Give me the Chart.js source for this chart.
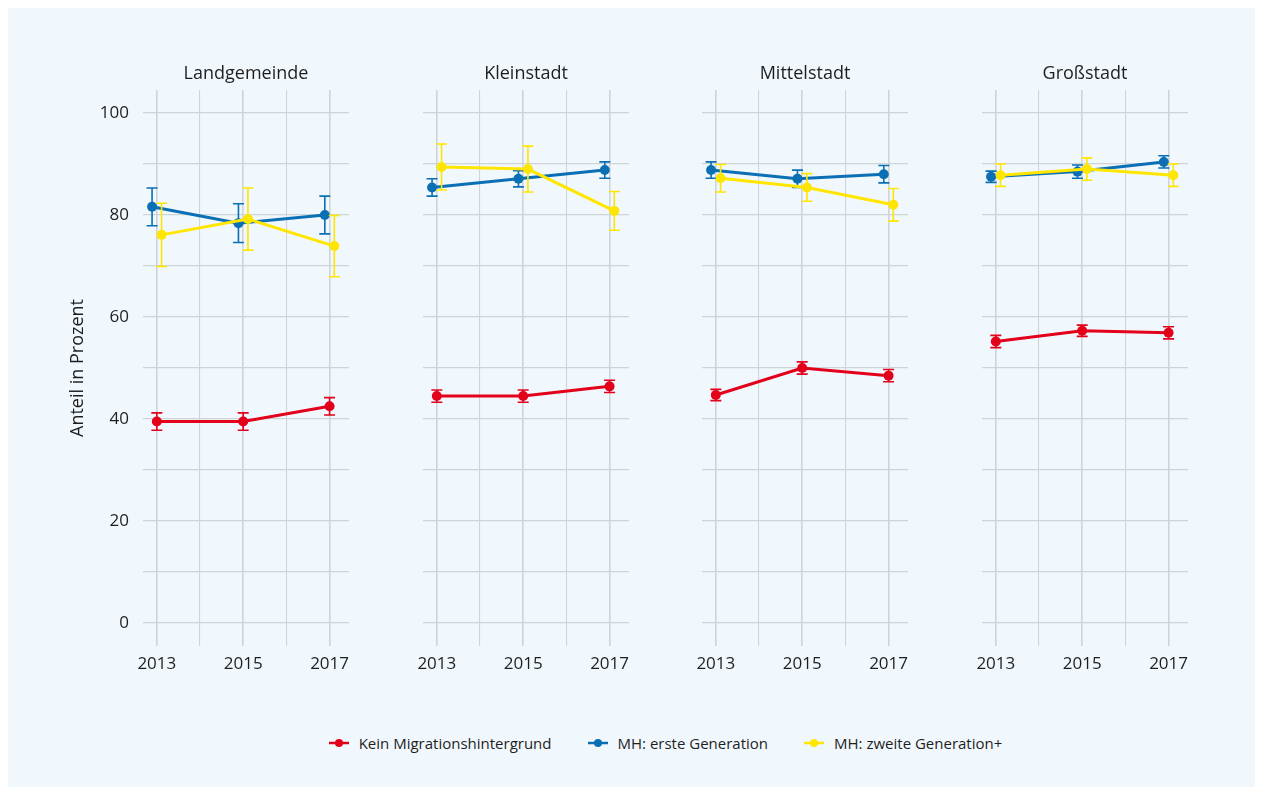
<!DOCTYPE html>
<html>
<head>
<meta charset="utf-8">
<script src="https://cdn.jsdelivr.net/npm/chart.js@4"></script>
<style>
  html, body { margin: 0; padding: 0; background: #fff; }
  #frame { position: relative; width: 1261px; height: 793px; }
  #panel { position: absolute; left: 8px; top: 8px; width: 1247px; height: 779px; background: #f1f8fd; }
  .cv { position: absolute; }
  #legend { position: absolute; left: 143px; width: 1045px; top: 733px; display: flex; justify-content: center;
            font: 15px "Open Sans", sans-serif; color: #1e1e1e; }
  #legend .item { display: flex; align-items: center; margin: 0 18px; }
  #legend svg { margin-right: 10px; }
</style>
</head>
<body>
<div id="frame">
  <div id="panel"></div>
  <canvas id="c0" class="cv"></canvas>
  <canvas id="c1" class="cv"></canvas>
  <canvas id="c2" class="cv"></canvas>
  <canvas id="c3" class="cv"></canvas>
  <div id="legend"></div>
</div>
<script>
// data
const panels = ['Landgemeinde', 'Kleinstadt', 'Mittelstadt', 'Großstadt'];
const years = [2013, 2015, 2017];
const seriesNames = ['Kein Migrationshintergrund', 'MH: erste Generation', 'MH: zweite Generation+'];

const kein      = [[39.5, 39.5, 42.5], [44.5, 44.5, 46.4], [44.7, 50.0, 48.5], [55.2, 57.3, 56.9]];
const keinErr   = [[1.7, 1.7, 1.7], [1.2, 1.2, 1.2], [1.1, 1.2, 1.2], [1.2, 1.1, 1.2]];
const erste     = [[81.6, 78.4, 80.0], [85.4, 87.1, 88.8], [88.8, 87.1, 88.0], [87.5, 88.5, 90.4]];
const ersteErr  = [[3.7, 3.8, 3.7], [1.7, 1.6, 1.6], [1.6, 1.7, 1.7], [1.1, 1.3, 1.2]];
const zweite    = [[76.1, 79.2, 73.9], [89.4, 89.0, 80.8], [87.2, 85.4, 82.0], [87.8, 89.0, 87.8]];
const zweiteErr = [[6.2, 6.1, 6.0], [4.5, 4.5, 3.8], [2.7, 2.7, 3.2], [2.2, 2.2, 2.2]];

const yTicks = [0, 20, 40, 60, 80, 100];
const xTicks = [2013, 2015, 2017];

// styling
const colors = ['#e3001b', '#0a6fb4', '#ffe600'];
const dodge = [0, -0.11, 0.11];
const gridColor = '#cfd4d8';
const FONT = '"Open Sans", sans-serif';

// plot area geometry (page px)
const plotLefts = [143, 423, 702, 982];
const plotW = 206, plotTop = 90, plotBottom = 646;
const canvasTop = 50, canvasBottom = 684;
const sidePad = 30;

// error bars drawn from each dataset's err array through the y scale
const errorBars = {
  id: 'errorBars',
  afterDatasetDraw(chart, args) {
    const ds = chart.data.datasets[args.index];
    if (!ds.err) return;
    const ctx = chart.ctx, y = chart.scales.y;
    ctx.save();
    ctx.strokeStyle = ds.borderColor;
    ctx.lineWidth = 1.6;
    args.meta.data.forEach((pt, i) => {
      const v = ds.data[i].y, e = ds.err[i];
      const y1 = y.getPixelForValue(v - e), y2 = y.getPixelForValue(v + e);
      ctx.beginPath();
      ctx.moveTo(pt.x, y1); ctx.lineTo(pt.x, y2);
      ctx.moveTo(pt.x - 5.5, y1); ctx.lineTo(pt.x + 5.5, y1);
      ctx.moveTo(pt.x - 5.5, y2); ctx.lineTo(pt.x + 5.5, y2);
      ctx.stroke();
    });
    ctx.restore();
  }
};

// facet title above each chart area
const facetTitle = {
  id: 'facetTitle',
  afterDraw(chart, args, opts) {
    const ctx = chart.ctx, a = chart.chartArea;
    ctx.save();
    ctx.font = '18px ' + FONT;
    ctx.fillStyle = '#1e1e1e';
    ctx.textAlign = 'center';
    ctx.textBaseline = 'middle';
    ctx.fillText(opts.text, (a.left + a.right) / 2, a.top - 16);
    ctx.restore();
  }
};

function makeChart(k) {
  const first = k === 0;
  const canvas = document.getElementById('c' + k);
  const left = first ? 60 : plotLefts[k] - sidePad;
  const width = plotLefts[k] + plotW + sidePad - left;
  const height = canvasBottom - canvasTop;
  canvas.style.left = left + 'px';
  canvas.style.top = canvasTop + 'px';
  canvas.style.width = width + 'px';
  canvas.style.height = height + 'px';
  canvas.width = width;
  canvas.height = height;

  const values = [kein[k], erste[k], zweite[k]];
  const errs = [keinErr[k], ersteErr[k], zweiteErr[k]];
  const padLeft = first ? 4 : sidePad;

  return new Chart(canvas.getContext('2d'), {
    type: 'line',
    data: {
      datasets: values.map((vals, s) => ({
        label: seriesNames[s],
        data: vals.map((v, i) => ({ x: years[i] + dodge[s], y: v })),
        err: errs[s],
        borderColor: colors[s],
        backgroundColor: colors[s],
        borderWidth: 3,
        pointRadius: 5,
        pointBorderWidth: 0,
        tension: 0,
        order: [2, 1, 0][s]
      }))
    },
    options: {
      responsive: false,
      animation: false,
      events: [],
      layout: { padding: { left: padLeft, right: sidePad, top: plotTop - canvasTop, bottom: 0 } },
      plugins: {
        legend: { display: false },
        tooltip: { enabled: false },
        facetTitle: { text: panels[k] }
      },
      scales: {
        x: {
          type: 'linear',
          min: 2012.68,
          max: 2017.45,
          afterFit: (s) => {
            s.height = canvasBottom - plotBottom;
            s.paddingLeft = 0;
            s.paddingRight = 0;
          },
          border: { display: false },
          grid: {
            color: gridColor,
            drawTicks: false,
            lineWidth: (c) => (xTicks.includes(c.tick.value) ? 1.6 : 1.1)
          },
          ticks: {
            stepSize: 1,
            includeBounds: false,
            autoSkip: false,
            minRotation: 0,
            maxRotation: 0,
            padding: 8,
            color: '#1e1e1e',
            font: { family: FONT, size: 17 },
            callback: (v) => (xTicks.includes(v) ? String(v) : '')
          }
        },
        y: {
          min: -4.5,
          max: 104.5,
          afterFit: (s) => {
            s.width = first ? plotLefts[0] - left - padLeft : 0;
            s.paddingTop = 0;
            s.paddingBottom = 0;
          },
          border: { display: false },
          grid: { color: gridColor, drawTicks: false, lineWidth: 1.3 },
          title: first
            ? { display: true, text: 'Anteil in Prozent', color: '#1e1e1e', font: { family: FONT, size: 18 }, padding: 3 }
            : { display: false },
          ticks: {
            display: first,
            stepSize: 10,
            includeBounds: false,
            padding: 14,
            color: '#1e1e1e',
            font: { family: FONT, size: 17 },
            callback: (v) => (yTicks.includes(v) ? String(v) : '')
          }
        }
      }
    },
    plugins: [errorBars, facetTitle]
  });
}

panels.forEach((p, k) => makeChart(k));

// legend
const legend = document.getElementById('legend');
seriesNames.forEach((name, s) => {
  const item = document.createElement('div');
  item.className = 'item';
  item.innerHTML =
    '<svg width="20" height="10"><line x1="0" y1="5" x2="20" y2="5" stroke="' + colors[s] +
    '" stroke-width="2.5"/><circle cx="10" cy="5" r="4" fill="' + colors[s] + '"/></svg><span>' + name + '</span>';
  legend.appendChild(item);
});
</script>
</body>
</html>
